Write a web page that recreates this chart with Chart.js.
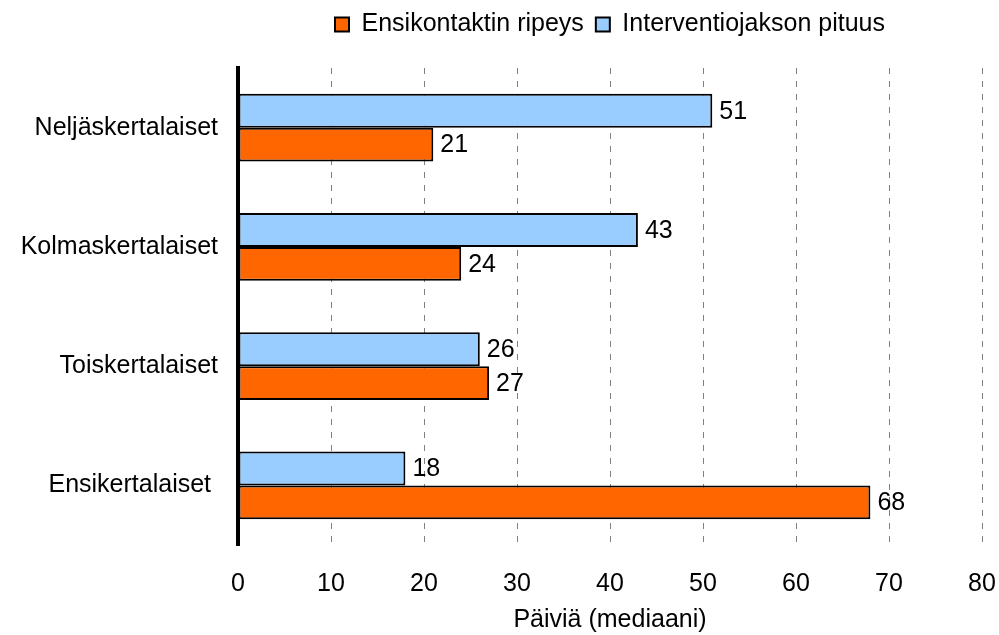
<!DOCTYPE html>
<html>
<head>
<meta charset="utf-8">
<script src="https://cdn.jsdelivr.net/npm/chart.js@4"></script>
<style>
  html, body { margin: 0; padding: 0; background: #fff; }
  #wrap { width: 999px; height: 635px; }
</style>
</head>
<body>
<div id="wrap"><canvas id="chart" width="999" height="635"></canvas></div>
<script>
const categories = ["Neljäskertalaiset", "Kolmaskertalaiset", "Toiskertalaiset", "Ensikertalaiset "];
const interventionDays = [51, 43, 26, 18];
const firstContactDays = [21, 24, 27, 68];
const xTicks = [0, 10, 20, 30, 40, 50, 60, 70, 80];

const FONT = "'Liberation Sans', Arial, sans-serif";
const FS = 25;

// value labels at the end of each bar
const barValues = {
  id: "barValues",
  afterDatasetsDraw(chart){
    const ctx = chart.ctx;
    ctx.save();
    ctx.font = FS + "px " + FONT;
    ctx.fillStyle = "#000";
    ctx.textBaseline = "middle";
    ctx.textAlign = "left";
    chart.data.datasets.forEach((ds, i)=>{
      chart.getDatasetMeta(i).data.forEach((bar, j)=>{
        ctx.fillText(String(ds.data[j]), bar.x + 7, bar.y + 1);
      });
    });
    ctx.restore();
  }
};

// extra room under the legend
const legendGap = {
  id: "legendGap",
  beforeLayout(chart){
    const lg = chart.legend;
    if(lg && !lg._gapped){
      const fit = lg.fit.bind(lg);
      lg.fit = function(){ fit(); this.height += 21; };
      lg._gapped = true;
    }
  }
};

new Chart(document.getElementById("chart"), {
  type: "bar",
  data: {
    labels: categories,
    datasets: [
      {
        label: "Interventiojakson pituus",
        data: interventionDays,
        backgroundColor: "#99CCFF",
        borderColor: "#000",
        borderWidth: 2,
        borderSkipped: false
      },
      {
        label: "Ensikontaktin ripeys",
        data: firstContactDays,
        backgroundColor: "#FF6600",
        borderColor: "#000",
        borderWidth: 2,
        borderSkipped: false
      }
    ]
  },
  options: {
    indexAxis: "y",
    responsive: false,
    animation: false,
    layout: { padding: { top: 0, right: 17, left: 0, bottom: 0 } },
    datasets: { bar: { categoryPercentage: 0.567, barPercentage: 1 } },
    plugins: {
      tooltip: { enabled: false },
      legend: {
        position: "top",
        fullSize: false,
        reverse: true,
        labels: {
          font: { family: FONT, size: FS },
          color: "#000",
          boxWidth: 14,
          boxHeight: 14,
          padding: 12,
          generateLabels(chart){
            return chart.data.datasets.map((ds, i)=>({
              text: ds.label,
              fillStyle: ds.backgroundColor,
              strokeStyle: "#000",
              lineWidth: 2,
              datasetIndex: i,
              hidden: false,
              fontColor: "#000"
            }));
          }
        }
      }
    },
    scales: {
      x: {
        min: 0,
        max: 80,
        afterBuildTicks(axis){ axis.ticks = xTicks.map(v=>({ value: v })); },
        ticks: {
          font: { family: FONT, size: FS },
          color: "#000",
          padding: 24
        },
        grid: {
          color: ctx => ctx.tick && ctx.tick.value === 0 ? "rgba(0,0,0,0)" : "#808080",
          lineWidth: 1,
          drawTicks: false
        },
        border: { display: false, dash: [6, 7] },
        title: {
          display: true,
          text: "Päiviä (mediaani)",
          font: { family: FONT, size: FS },
          color: "#000",
          padding: { top: 4, bottom: 0 }
        },
        afterFit(axis){
          axis.height = 90;
          axis.paddingLeft = 0;
          axis.paddingRight = 0;
        }
      },
      y: {
        ticks: {
          font: { family: FONT, size: FS },
          color: "#000",
          padding: 20
        },
        grid: { display: false, drawTicks: false },
        border: { display: true, color: "#000", width: 4 },
        afterFit(axis){ axis.width = 238; }
      }
    }
  },
  plugins: [barValues, legendGap]
});
</script>
</body>
</html>
